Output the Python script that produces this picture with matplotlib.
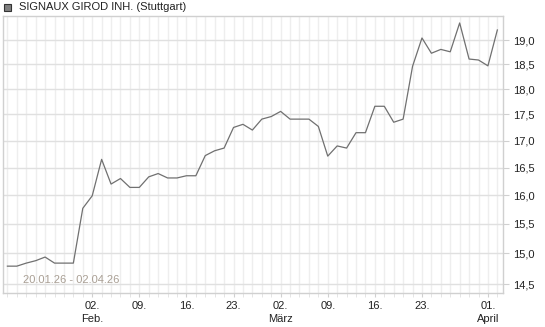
import matplotlib
matplotlib.use("Agg")
import matplotlib.pyplot as plt
from matplotlib.ticker import FixedLocator, FuncFormatter, NullLocator
from matplotlib.patches import Rectangle
import pandas as pd

plt.rcParams['font.family'] = ['Liberation Sans', 'DejaVu Sans']

title = "SIGNAUX GIROD INH. (Stuttgart)"
range_text = "20.01.26 - 02.04.26"
dates = pd.bdate_range("2026-01-20", "2026-04-02")
prices = [14.79, 14.79, 14.84, 14.88, 14.94, 14.84, 14.84, 14.84, 15.77, 15.99,
          16.65, 16.20, 16.30, 16.14, 16.14, 16.33, 16.39, 16.31, 16.31, 16.35,
          16.35, 16.72, 16.81, 16.86, 17.25, 17.31, 17.20, 17.41, 17.46, 17.56,
          17.41, 17.41, 17.41, 17.27, 16.71, 16.90, 16.86, 17.15, 17.15, 17.66,
          17.66, 17.35, 17.41, 18.46, 19.05, 18.73, 18.81, 18.76, 19.37, 18.61,
          18.59, 18.47, 19.22]
tick_dates = ["2026-02-02", "2026-02-09", "2026-02-16", "2026-02-23", "2026-03-02",
              "2026-03-09", "2026-03-16", "2026-03-23", "2026-04-01"]
tick_labels = ["02.\nFeb.", "09.", "16.", "23.", "02.\nMärz", "09.", "16.", "23.", "01.\nApril"]
y_ticks = [14.5, 15.0, 15.5, 16.0, 16.5, 17.0, 17.5, 18.0, 18.5, 19.0]

fig = plt.figure(figsize=(5.45, 3.27), dpi=100)
ax = fig.add_axes([2.7 / 545, 1 - 293 / 327, (503 - 2.7) / 545, (293 - 16) / 327])

xs = list(range(len(dates)))
ax.plot(xs, prices, color="#707070", lw=0.9, zorder=3)

ax.set_yscale("log")
ax.set_ylim(14.356, 19.52)
ax.set_xlim(-0.5, 52.6)

ax.yaxis.set_major_locator(FixedLocator(y_ticks))
ax.yaxis.set_minor_locator(NullLocator())
ax.yaxis.set_major_formatter(FuncFormatter(lambda v, p: f"{v:.1f}".replace(".", ",")))
ax.yaxis.tick_right()

date_idx = {d.strftime("%Y-%m-%d"): i for i, d in enumerate(dates)}
ax.set_xticks([date_idx[d] for d in tick_dates])
ax.set_xticklabels(tick_labels)
ax.set_xticks(xs, minor=True)

ax.grid(True, which="major", axis="y", color="#e0e0e0", lw=1.0, zorder=0)
ax.grid(True, which="both", axis="x", color="#eeeeee", lw=1.0, zorder=0)

for s in ax.spines.values():
    s.set_color("#d0d0d0")
    s.set_linewidth(1.0)

ax.tick_params(axis="y", which="major", length=4, color="#d0d0d0", labelsize=8,
               labelcolor="#222222", pad=3)
ax.tick_params(axis="x", which="major", length=3, color="#d0d0d0", labelsize=8,
               labelcolor="#222222", pad=3)
ax.tick_params(axis="x", which="minor", length=3, color="#e0e0e0")
for lab in ax.get_xticklabels():
    lab.set_linespacing(1.35)

ax.text(0.04, 0.03, range_text, transform=ax.transAxes, fontsize=8, color="#a99f94",
        ha="left", va="bottom", zorder=4)

fig.patches.append(Rectangle((4 / 545, 1 - 11 / 327), 7 / 545, 7 / 327,
                             transform=fig.transFigure, facecolor="#808080",
                             edgecolor="#333333", lw=0.8))
fig.text(19 / 545, 1 - 7.5 / 327, title, fontsize=8, color="#222222",
         ha="left", va="center")

fig.savefig("out.png", dpi=100, facecolor="white")
